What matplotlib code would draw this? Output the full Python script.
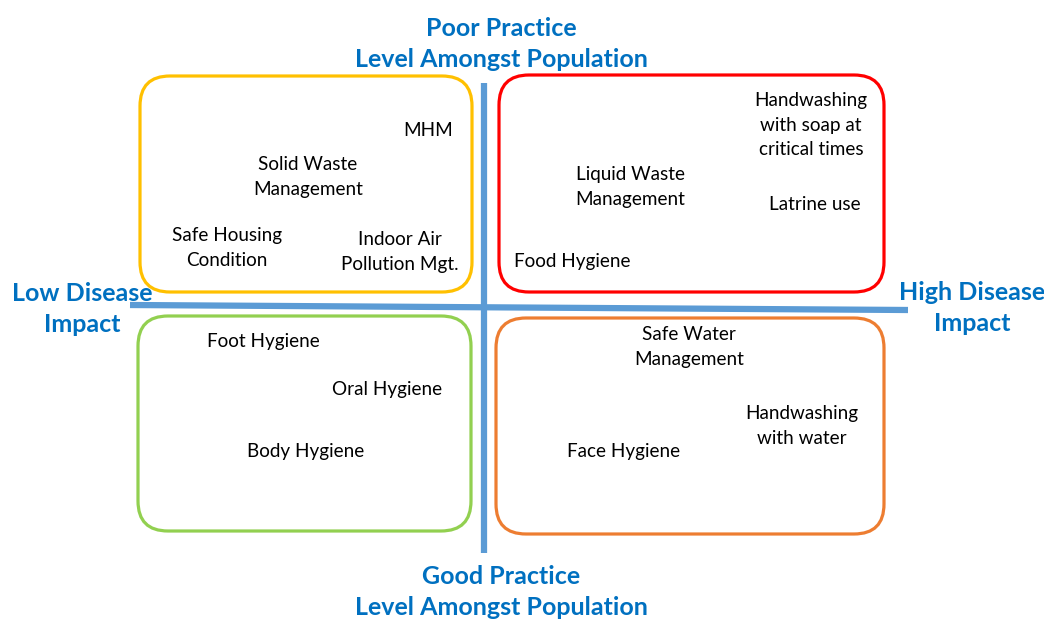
import matplotlib
matplotlib.use("Agg")
import matplotlib.pyplot as plt
from matplotlib.patches import FancyBboxPatch

plt.rcParams['font.family'] = ['Lato', 'DejaVu Sans']

# quadrant boxes: (left, top, right, bottom) in pixel space of the slide, colour
box_edges = [(140, 76, 472, 292), (499, 75, 884, 292),
             (138, 316, 471, 531), (496, 318, 884, 534)]
box_colors = ['#FFC000', '#FF0000', '#92D050', '#ED7D31']

# practices and where they sit on the map
items = ['MHM', 'Solid Waste\nManagement', 'Safe Housing\nCondition', 'Indoor Air\nPollution Mgt.',
         'Handwashing\nwith soap at\ncritical times', 'Liquid Waste\nManagement', 'Latrine use',
         'Food Hygiene', 'Foot Hygiene', 'Oral Hygiene', 'Body Hygiene',
         'Safe Water\nManagement', 'Handwashing\nwith water', 'Face Hygiene']
item_x = [428, 308, 227, 400, 811, 630, 815, 572, 263, 387, 306, 689, 802, 624]
item_y = [131, 177, 248, 252, 125, 187, 204, 261, 342, 389, 452, 347, 426, 452]

# axis captions
axis_labels = ['Poor Practice\nLevel Amongst Population', 'Good Practice\nLevel Amongst Population',
               'Low Disease\nImpact', 'High Disease\nImpact']
axis_x = [501, 501, 82, 972]
axis_y = [44, 592, 309, 308]

blue = '#0070C0'
axis_blue = '#5B9BD5'

fig = plt.figure(figsize=(10.44, 6.21), dpi=100)
ax = fig.add_axes([0, 0, 1, 1])
ax.set_xlim(0, 1044)
ax.set_ylim(621, 0)
ax.axis('off')

# the two axes of the map
ax.plot([484, 484], [83, 553], color=axis_blue, lw=4.5, solid_capstyle='butt', zorder=1)
ax.plot([130, 908], [305, 310], color=axis_blue, lw=4.5, solid_capstyle='butt', zorder=1)

for (l, t, r, b), c in zip(box_edges, box_colors):
    ax.add_patch(FancyBboxPatch((l, t), r - l, b - t,
                                boxstyle='round,pad=0,rounding_size=30',
                                fc='white', ec=c, lw=2.3, zorder=2))

for txt, x, y in zip(items, item_x, item_y):
    ax.text(x, y, txt, ha='center', va='center', fontsize=13.6,
            color='black', linespacing=1.55, zorder=3)

for txt, x, y in zip(axis_labels, axis_x, axis_y):
    ax.text(x, y, txt, ha='center', va='center', fontsize=18, fontweight='bold',
            color=blue, linespacing=1.47, zorder=3)

fig.savefig('out.png', dpi=100)
